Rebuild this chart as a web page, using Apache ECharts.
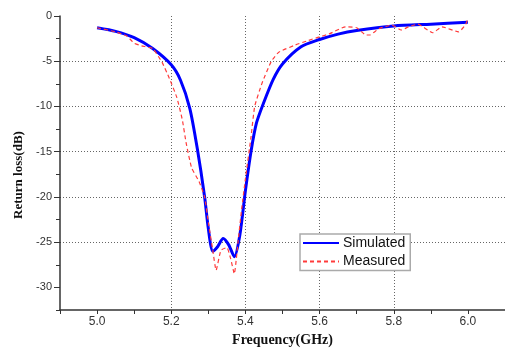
<!DOCTYPE html>
<html>
<head>
<meta charset="utf-8">
<script src="https://cdn.jsdelivr.net/npm/echarts@6/dist/echarts.min.js"></script>
<style>html,body{margin:0;padding:0;background:#fff}#c{width:505px;height:353px}</style>
</head>
<body>
<div id="c"></div>
<script>
const freqSim = [5.00,5.05,5.10,5.15,5.20,5.225,5.25,5.27,5.29,5.30,5.312,5.325,5.34,5.355,5.37,5.385,5.40,5.415,5.43,5.45,5.475,5.50,5.55,5.60,5.65,5.70,5.80,5.90,6.00];
const lossSim = [-1.3,-1.7,-2.4,-3.6,-5.4,-7.1,-10.2,-14.6,-20.0,-23.5,-26.0,-25.5,-24.6,-25.3,-26.6,-24.2,-19.3,-15.0,-11.8,-9.5,-7.0,-5.3,-3.4,-2.6,-2.0,-1.6,-1.1,-0.9,-0.7];
const freqMeas = [5.00,5.05,5.08,5.10,5.12,5.15,5.175,5.195,5.215,5.23,5.24,5.255,5.275,5.29,5.30,5.312,5.321,5.334,5.35,5.36,5.37,5.38,5.39,5.40,5.415,5.425,5.445,5.47,5.49,5.535,5.57,5.60,5.625,5.67,5.70,5.725,5.735,5.76,5.795,5.82,5.84,5.865,5.905,5.93,5.975,5.993,6.00];
const lossMeas = [-1.3,-1.75,-2.2,-3.0,-3.3,-3.6,-5.1,-6.9,-9.0,-11.5,-14.0,-16.8,-18.3,-20.0,-22.8,-25.9,-28.1,-25.9,-25.6,-26.8,-28.5,-25.0,-21.3,-18.0,-13.4,-10.0,-7.4,-5.0,-4.0,-3.2,-2.7,-2.3,-2.0,-1.2,-1.3,-2.1,-2.1,-1.4,-1.0,-1.55,-1.2,-0.9,-1.85,-1.2,-1.75,-1.0,-0.3];
const xTicks = [5.0,5.2,5.4,5.6,5.8,6.0];
const yTicks = [0,-5,-10,-15,-20,-25,-30];
const seriesNames = ['Simulated','Measured'];

const zip = (a,b)=>a.map((v,i)=>[v,b[i]]);
const chart = echarts.init(document.getElementById('c'), null, {renderer:'canvas'});
const axisColor = '#333';
const gridRect = {left:60, right:-1, top:16, bottom:43, containLabel:false};
const gridLine = {show:true, showMinLine:false, showMaxLine:false, lineStyle:{color:'#666', type:[1,2], width:1}};
chart.setOption({
  animation:false,
  grid:[Object.assign({}, gridRect), Object.assign({}, gridRect)],
  legend:{
    left:300, top:234, orient:'vertical',
    data:seriesNames,
    itemWidth:36, itemHeight:14, itemGap:4.4,
    padding:[2,5,2,2],
    itemStyle:{opacity:0},
    borderColor:'#aaa', borderWidth:1.5, backgroundColor:'#fff',
    textStyle:{fontFamily:'Liberation Sans, Arial', fontSize:14, color:'#111', padding:[0,0,0,-1]}
  },
  xAxis:[{
    gridIndex:0, type:'value', min:4.9, max:6.1, position:'bottom',
    name:'Frequency(GHz)', nameLocation:'middle', nameGap:22,
    nameTextStyle:{fontFamily:'Liberation Serif, Times New Roman', fontWeight:'bold', fontSize:14, color:'#111'},
    axisLine:{show:true, onZero:false, lineStyle:{color:axisColor, width:1.5}},
    axisTick:{show:true, inside:false, length:4, customValues:xTicks, lineStyle:{color:axisColor}},
    axisLabel:{customValues:xTicks, formatter:v=>v.toFixed(1), fontFamily:'Liberation Sans, Arial', fontSize:12, color:'#333', margin:6},
    splitLine:gridLine
  },{
    gridIndex:1, type:'value', min:4.9, max:6.1, interval:0.1, position:'bottom',
    axisLine:{show:false, onZero:false}, axisLabel:{show:false}, splitLine:{show:false},
    axisTick:{show:true, inside:false, length:4, lineStyle:{color:axisColor}}
  }],
  yAxis:[{
    gridIndex:0, type:'value', min:-32.5, max:0, position:'left',
    name:'Return loss(dB)', nameLocation:'middle', nameGap:29, nameRotate:90,
    nameTextStyle:{fontFamily:'Liberation Serif, Times New Roman', fontWeight:'bold', fontSize:13, color:'#111', padding:[0,24,0,0]},
    axisLine:{show:true, onZero:false, lineStyle:{color:axisColor, width:1.5}},
    axisTick:{show:true, inside:false, length:6, customValues:yTicks, lineStyle:{color:axisColor}},
    axisLabel:{customValues:yTicks, fontFamily:'Liberation Sans, Arial', fontSize:11, color:'#333', margin:8},
    splitLine:gridLine
  },{
    gridIndex:1, type:'value', min:-32.5, max:0, interval:2.5, position:'left',
    axisLine:{show:false, onZero:false}, axisLabel:{show:false}, splitLine:{show:false},
    axisTick:{show:true, inside:false, length:4, lineStyle:{color:axisColor}}
  }],
  series:[{
    name:seriesNames[0], type:'line', data:zip(freqSim,lossSim), xAxisIndex:0, yAxisIndex:0,
    symbol:'none', smooth:0.25, z:3,
    lineStyle:{color:'#0000ff', width:3}, itemStyle:{color:'#0000ff'}
  },{
    name:seriesNames[1], type:'line', data:zip(freqMeas,lossMeas), xAxisIndex:0, yAxisIndex:0,
    symbol:'none', smooth:0.15, z:4,
    lineStyle:{color:'#ff3b3b', width:1.2, type:[4,3]}, itemStyle:{color:'#ff3b3b'}
  }]
});
</script>
</body>
</html>
